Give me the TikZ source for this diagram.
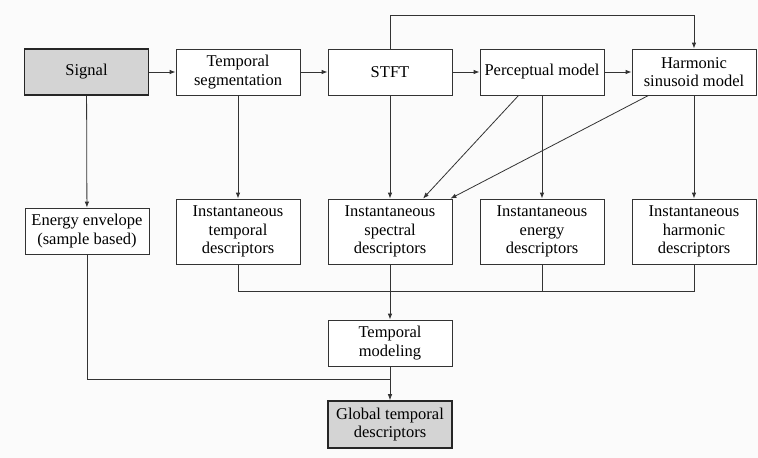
\documentclass[tikz,border=0pt]{standalone}
\usepackage{fontspec}
\setmainfont{Liberation Serif}
\newfontfamily\diagfont{Liberation Serif}
\usetikzlibrary{arrows.meta}
\definecolor{bgc}{HTML}{FBFBFB}
\definecolor{linec}{HTML}{333333}
\definecolor{hl}{HTML}{D4D4D4}
\begin{document}
\begin{tikzpicture}[x=1pt,y=-1pt,
  box/.style={draw=linec,line width=0.8pt,fill=white,minimum width=124pt,minimum height=46pt,align=center,inner sep=1pt,font=\diagfont\fontsize{16.5}{18.5}\selectfont},
  tall/.style={box,minimum height=65pt},
  key/.style={box,fill=hl,line width=1.6pt,draw=black!85},
  conn/.style={draw=linec,line width=0.8pt},
  arr/.style={conn,-{Latex[length=6pt,width=4.5pt]}}]
\fill[bgc] (0,0) rectangle (758,458);
\useasboundingbox (0,0) rectangle (758,458);
\node[key] (sig) at (86.5,72) {Signal};
\node[box] (ts) at (238,72) {Temporal\\segmentation};
\node[box] (stft) at (390,72) {STFT};
\node[box] (pm) at (542,72) {Perceptual model};
\node[box] (hsm) at (694,72) {Harmonic\\sinusoid model};
\node[box] (ee) at (87,231) {Energy envelope\\(sample based)};
\node[tall] (itd) at (238,231.5) {Instantaneous\\temporal\\descriptors};
\node[tall] (isd) at (390,231.5) {Instantaneous\\spectral\\descriptors};
\node[tall] (ied) at (542,231.5) {Instantaneous\\energy\\descriptors};
\node[tall] (ihd) at (694,231.5) {Instantaneous\\harmonic\\descriptors};
\node[box] (tm) at (390,343) {Temporal\\modeling};
\node[key,minimum height=47pt] (gtd) at (390,424.5) {Global temporal\\descriptors};
\coordinate (top1) at (390,15);
\coordinate (top2) at (694,15);
\coordinate (j1) at (238,291);
\coordinate (j2) at (694,291);
\coordinate (e1) at (87,379);
\coordinate (e2) at (390,379);
\draw[arr] (sig) -- (ts);
\draw[arr] (ts) -- (stft);
\draw[arr] (stft) -- (pm);
\draw[arr] (pm) -- (hsm);
\draw[arr] (stft.north) -- (top1) -- (top2) -- (hsm.north);
\draw[arr] (sig) -- (ee);
\draw[arr] (ts) -- (itd);
\draw[arr] (stft) -- (isd);
\draw[arr] (pm) -- (ied);
\draw[arr] (hsm) -- (ihd);
\draw[arr] (pm.south west) ++(39,0) -- ([xshift=33pt]isd.north);
\draw[arr] (hsm.south west) ++(17,0) -- ([xshift=-2pt]isd.north east);
\draw[conn] (itd.south) -- (j1) -- (j2) -- (ihd.south);
\draw[conn] (ied.south) -- (ied.south |- j1);
\draw[arr] (isd) -- (tm);
\draw[conn] (ee.south) -- (e1) -- (e2);
\draw[arr] (tm) -- (gtd);
\end{tikzpicture}
\end{document}
